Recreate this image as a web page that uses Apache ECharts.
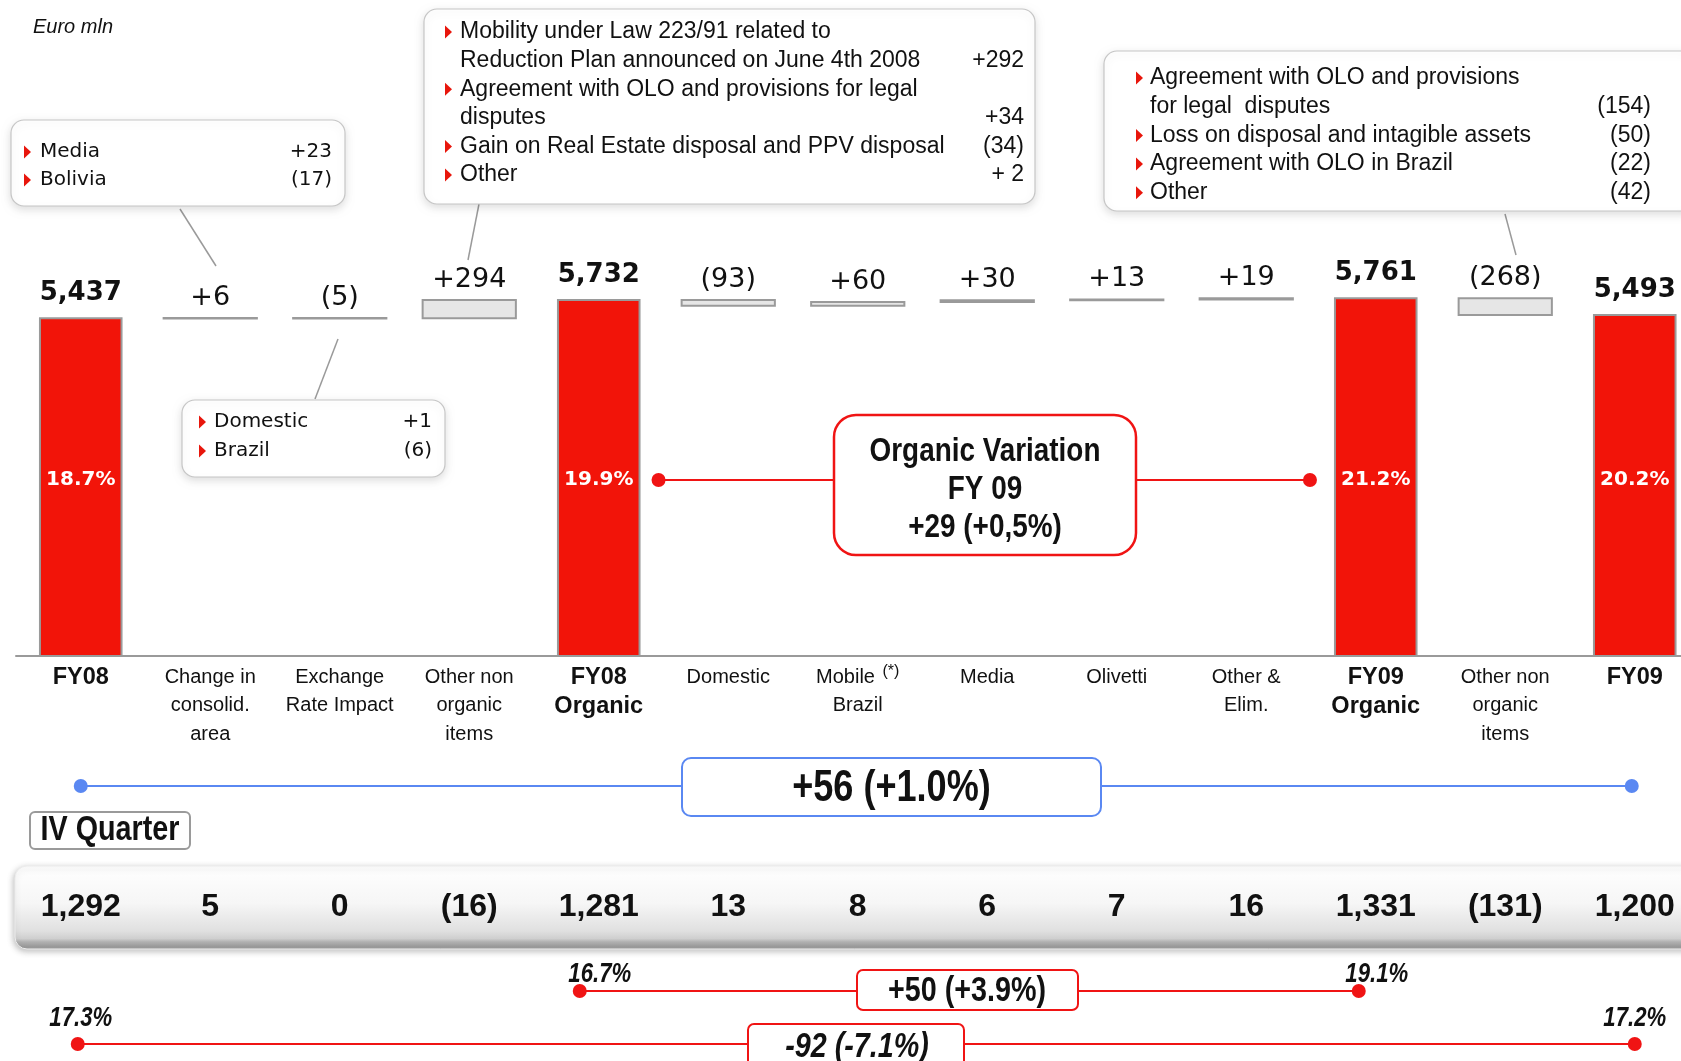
<!DOCTYPE html>
<html>
<head>
<meta charset="utf-8">
<script src="https://cdn.jsdelivr.net/npm/echarts@6/dist/echarts.min.js"></script>
<style>
  html, body { margin: 0; padding: 0; background: #ffffff; }
  #chart { width: 1681px; height: 1061px; }
</style>
</head>
<body>
<div id="chart"></div>
<script>
// ---- EBITDA bridge FY08 -> FY09 (Euro mln) ----
const categories = [
  'FY08', 'Change in\nconsolid.\narea', 'Exchange\nRate Impact', 'Other non\norganic\nitems',
  'FY08\nOrganic', 'Domestic', 'Mobile (*)\nBrazil', 'Media', 'Olivetti', 'Other &\nElim.',
  'FY09\nOrganic', 'Other non\norganic\nitems', 'FY09'
];
const barKind = ['total', 'delta', 'delta', 'delta', 'total', 'delta', 'delta', 'delta', 'delta', 'delta', 'total', 'delta', 'total'];
const ebitda = [5437, 6, -5, 294, 5732, -93, 60, 30, 13, 19, 5761, -268, 5493];
const ebitdaMargin = ['18.7%', '', '', '', '19.9%', '', '', '', '', '', '21.2%', '', '20.2%'];

// IV quarter row
const quarterEbitda = [1292, 5, 0, -16, 1281, 13, 8, 6, 7, 16, 1331, -131, 1200];
const quarterMargin = ['17.3%', '', '', '', '16.7%', '', '', '', '', '', '19.1%', '', '17.2%'];

// Variation call-outs
const organicVariationLines = ['Organic Variation', 'FY 09', '+29 (+0,5%)'];
const yearVariation = '+56 (+1.0%)';
const quarterOrganicVariation = '+50 (+3.9%)';
const quarterVariation = '-92 (-7.1%)';

// Breakdown notes
const notesConsolid = [
  { text: ['Media'], value: '+23' },
  { text: ['Bolivia'], value: '(17)' }
];
const notesExchange = [
  { text: ['Domestic'], value: '+1' },
  { text: ['Brazil'], value: '(6)' }
];
const notesNonOrganicFY08 = [
  { text: ['Mobility under Law 223/91 related to', 'Reduction Plan announced on June 4th 2008'], value: '+292' },
  { text: ['Agreement with OLO and provisions for legal', 'disputes'], value: '+34' },
  { text: ['Gain on Real Estate disposal and PPV disposal'], value: '(34)' },
  { text: ['Other'], value: '+ 2' }
];
const notesNonOrganicFY09 = [
  { text: ['Agreement with OLO and provisions', 'for legal  disputes'], value: '(154)' },
  { text: ['Loss on disposal and intagible assets'], value: '(50)' },
  { text: ['Agreement with OLO in Brazil'], value: '(22)' },
  { text: ['Other'], value: '(42)' }
];

// ---- styling ----
const SANS = '"DejaVu Sans", Verdana, sans-serif';
const ARIAL = '"Liberation Sans", Arial, sans-serif';
const CONDENSE = 0.82;          // horizontal squeeze for the condensed headline face
const RED = '#f21409';
const LINE_RED = '#f01414';
const BLUE = '#5a88f2';
const INK = '#111111';
const MARGIN_LABEL_Y = 480;

function fmtTotal(v) { return v.toLocaleString('en-US'); }
function fmtDelta(v) { return v < 0 ? '(' + (-v) + ')' : '+' + v; }
function fmtQuarter(v) { return v < 0 ? '(' + (-v).toLocaleString('en-US') + ')' : v.toLocaleString('en-US'); }

// floating bars: [index, low, high, isDelta]
let running = 0;
const waterfall = ebitda.map((v, i) => {
  if (barKind[i] === 'total') { running = v; return [i, 0, v, 0]; }
  const a = running, b = running + v;
  running = b;
  return [i, Math.min(a, b), Math.max(a, b), 1];
});

function renderWaterfall(params, api) {
  const i = api.value(0);
  const lo = api.value(1);
  const hi = api.value(2);
  const isDelta = api.value(3) === 1;
  const band = api.size([1, 0])[0];
  const top = api.coord([i, hi]);
  const bottomY = api.coord([i, lo])[1];
  const w = band * (isDelta ? 0.72 : 0.63);
  const h = Math.max(bottomY - top[1], 0.6);
  const v = ebitda[params.dataIndex];
  const children = [{
    type: 'rect',
    shape: { x: top[0] - w / 2, y: top[1], width: w, height: h },
    style: { fill: isDelta ? '#e6e6e6' : RED, stroke: '#9a9a9a', lineWidth: 2 }
  }, {
    type: 'text',
    style: {
      text: isDelta ? fmtDelta(v) : fmtTotal(v),
      x: top[0], y: top[1] - (isDelta ? 20 : 25),
      align: 'center', verticalAlign: 'middle',
      font: isDelta ? '27px ' + SANS : 'bold 26px ' + SANS,
      fill: INK
    }
  }];
  const m = ebitdaMargin[params.dataIndex];
  if (m) {
    children.push({
      type: 'text',
      style: { text: m, x: top[0], y: MARGIN_LABEL_Y, align: 'center', verticalAlign: 'middle',
        font: 'bold 20px ' + SANS, fill: '#ffffff' }
    });
  }
  return { type: 'group', children };
}

function categoryLabel(value, idx) {
  const s = barKind[idx] === 'total' ? 'b' : 'n';
  return value.split('\n').map(line => {
    const parts = line.split('(*)');
    if (parts.length === 1) return '{' + s + '|' + line + '}';
    return '{' + s + '|' + parts[0] + '}{sup|(*)}' + (parts[1] ? '{' + s + '|' + parts[1] + '}' : '');
  }).join('\n');
}

const chart = echarts.init(document.getElementById('chart'), null, { renderer: 'canvas' });

chart.setOption({
  animation: false,
  backgroundColor: '#ffffff',
  grid: { left: 16, top: 283.4, width: 1683.5, height: 372.6, containLabel: false, outerBoundsMode: 'none' },
  xAxis: [{
    type: 'category', data: categories, gridIndex: 0, position: 'bottom', z: 5,
    axisTick: { show: false },
    axisLine: { lineStyle: { color: '#9a9a9a', width: 2 } },
    axisLabel: {
      interval: 0, margin: 7, color: INK,
      formatter: categoryLabel,
      rich: {
        n: { fontFamily: ARIAL, fontSize: 20, lineHeight: 28.5, color: INK },
        b: { fontFamily: ARIAL, fontSize: 23.5, fontWeight: 'bold', lineHeight: 29, color: INK },
        sup: { fontFamily: ARIAL, fontSize: 16, lineHeight: 28.5, padding: [0, 0, 12, 2], color: INK }
      }
    }
  }, {
    type: 'category', data: categories, gridIndex: 0, position: 'bottom', z: 5,
    axisTick: { show: false },
    axisLine: { show: false },
    axisLabel: {
      interval: 0, margin: 251, verticalAlign: 'middle',
      formatter: (v, i) => fmtQuarter(quarterEbitda[i]),
      fontFamily: ARIAL, fontSize: 32, fontWeight: 'bold', color: INK
    }
  }],
  yAxis: { type: 'value', min: 0, max: 6000, show: false, splitLine: { show: false } },
  series: [{
    type: 'custom', xAxisIndex: 0, yAxisIndex: 0, z: 2, clip: false,
    renderItem: renderWaterfall,
    encode: { x: 0, y: [1, 2] },
    data: waterfall
  }]
});

// ---- annotation layer ----
function txt(text, x, y, font, opts) {
  opts = opts || {};
  const align = opts.align || 'center';
  const sx = opts.scaleX || 1;
  return { type: 'text', z: 20, x, y, scaleX: sx, scaleY: 1,
    style: { text, x: 0, y: 0, font, fill: opts.fill || INK, align, textAlign: align,
      verticalAlign: 'middle', textVerticalAlign: 'middle' } };
}
function headline(text, x, y, size, italic) {
  return txt(text, x, y, (italic ? 'italic ' : '') + 'bold ' + size + 'px ' + ARIAL, { scaleX: CONDENSE });
}
function box(x, y, w, h, r, stroke, lw, extra) {
  return { type: 'rect', z: 10, shape: { x, y, width: w, height: h, r },
    style: Object.assign({ fill: '#ffffff', stroke, lineWidth: lw }, extra || {}) };
}
function seg(x1, y1, x2, y2, color, w) {
  return { type: 'line', z: 9, shape: { x1, y1, x2, y2 }, style: { stroke: color, lineWidth: w } };
}
function dot(x, y, r, color) {
  return { type: 'circle', z: 12, shape: { cx: x, cy: y, r }, style: { fill: color } };
}
function bullet(x, y) {
  return { type: 'polygon', z: 20, shape: { points: [[x, y - 6.5], [x + 7, y], [x, y + 6.5]] }, style: { fill: '#e8160c' } };
}
function noteBox(notes, L) {
  const els = [box(L.x, L.y, L.w, L.h, 13, '#c6c6c6', 1.2,
    { shadowBlur: 8, shadowColor: 'rgba(0,0,0,0.13)', shadowOffsetY: 3 })];
  let row = 0;
  notes.forEach(n => {
    n.text.forEach((t, k) => {
      const y = L.firstY + row * L.step;
      if (k === 0) els.push(bullet(L.bulletX, y));
      els.push(txt(t, L.textX, y, L.font, { align: 'left' }));
      if (k === n.text.length - 1) els.push(txt(n.value, L.valueX, y, L.font, { align: 'right' }));
      row++;
    });
  });
  return els;
}

const cx = i => chart.convertToPixel({ xAxisIndex: 0 }, i);
const band = cx(1) - cx(0);
const halfBar = band * 0.63 / 2;

const g = [];
g.push(txt('Euro mln', 33, 27, 'italic 20px ' + ARIAL, { align: 'left' }));

// breakdown notes with leader lines
g.push(...noteBox(notesConsolid, { x: 11, y: 120, w: 334, h: 86, firstY: 152, step: 28,
  bulletX: 24, textX: 40, valueX: 332, font: '20px ' + SANS }));
g.push(seg(180, 209, 216, 266, '#9a9a9a', 1.5));

g.push(...noteBox(notesExchange, { x: 182, y: 400, w: 263, h: 77, firstY: 422, step: 29,
  bulletX: 199, textX: 214, valueX: 432, font: '20px ' + SANS }));
g.push(seg(338, 339, 315, 399, '#9a9a9a', 1.5));

g.push(...noteBox(notesNonOrganicFY08, { x: 424, y: 9, w: 611, h: 195, firstY: 32, step: 28.6,
  bulletX: 445, textX: 460, valueX: 1024, font: '23px ' + ARIAL }));
g.push(seg(479, 204, 468, 260, '#9a9a9a', 1.5));

g.push(...noteBox(notesNonOrganicFY09, { x: 1104, y: 51, w: 590, h: 160, firstY: 78, step: 28.7,
  bulletX: 1136, textX: 1150, valueX: 1651, font: '23px ' + ARIAL }));
g.push(seg(1505, 214, 1516, 255, '#9a9a9a', 1.5));

// organic variation (full year)
const orgL = cx(4) + halfBar + 19, orgR = cx(10) - halfBar - 25;
g.push(seg(orgL, MARGIN_LABEL_Y, orgR, MARGIN_LABEL_Y, LINE_RED, 2));
g.push(dot(orgL, MARGIN_LABEL_Y, 7, LINE_RED), dot(orgR, MARGIN_LABEL_Y, 7, LINE_RED));
g.push(box(834, 415, 302, 140, 22, LINE_RED, 2.5));
organicVariationLines.forEach((t, k) => g.push(headline(t, 985, 452 + k * 38, 34)));

// reported variation (full year)
g.push(seg(cx(0), 786, cx(12) - 3, 786, BLUE, 2));
g.push(dot(cx(0), 786, 7, BLUE), dot(cx(12) - 3, 786, 7, BLUE));
g.push(box(682, 758, 419, 58, 9, BLUE, 2));
g.push(headline(yearVariation, 891.5, 789, 44));

// IV quarter band
g.push(box(30, 812, 160, 37, 5, '#9a9a9a', 2));
g.push(headline('IV Quarter', 110, 830, 35));
g.push({
  type: 'rect', z: 0,
  shape: { x: 15, y: 866, width: 1700, height: 83, r: [12, 0, 0, 12] },
  style: {
    fill: { type: 'linear', x: 0, y: 0, x2: 0, y2: 1, colorStops: [
      { offset: 0, color: '#ffffff' }, { offset: 0.45, color: '#f6f6f6' },
      { offset: 0.78, color: '#e0e0e0' }, { offset: 0.87, color: '#cfcfcf' },
      { offset: 0.91, color: '#b0b0b0' }, { offset: 0.97, color: '#999999' },
      { offset: 1, color: '#a9a9a9' } ] },
    stroke: '#ececec', lineWidth: 1,
    shadowBlur: 6, shadowColor: 'rgba(0,0,0,0.25)', shadowOffsetX: -1, shadowOffsetY: 2
  }
});

// IV quarter organic variation
const qOrgL = cx(4) - 19, qOrgR = cx(10) - 17;
g.push(seg(qOrgL, 991, qOrgR, 991, LINE_RED, 2));
g.push(dot(qOrgL, 991, 7, LINE_RED), dot(qOrgR, 991, 7, LINE_RED));
g.push(headline(quarterMargin[4], cx(4) + 1, 975, 27, true));
g.push(headline(quarterMargin[10], cx(10) + 1, 975, 27, true));
g.push(box(857, 970, 221, 40, 6, LINE_RED, 2));
g.push(headline(quarterOrganicVariation, 967, 991, 35));

// IV quarter reported variation
const qL = cx(0) - 3, qR = cx(12);
g.push(seg(qL, 1044, qR, 1044, LINE_RED, 2));
g.push(dot(qL, 1044, 7, LINE_RED), dot(qR, 1044, 7, LINE_RED));
g.push(headline(quarterMargin[0], cx(0), 1019, 27, true));
g.push(headline(quarterMargin[12], cx(12), 1019, 27, true));
g.push(box(748, 1024, 216, 50, 6, LINE_RED, 2));
g.push(headline(quarterVariation, 857, 1047, 35, true));

chart.setOption({ graphic: { elements: g } });
</script>
</body>
</html>
